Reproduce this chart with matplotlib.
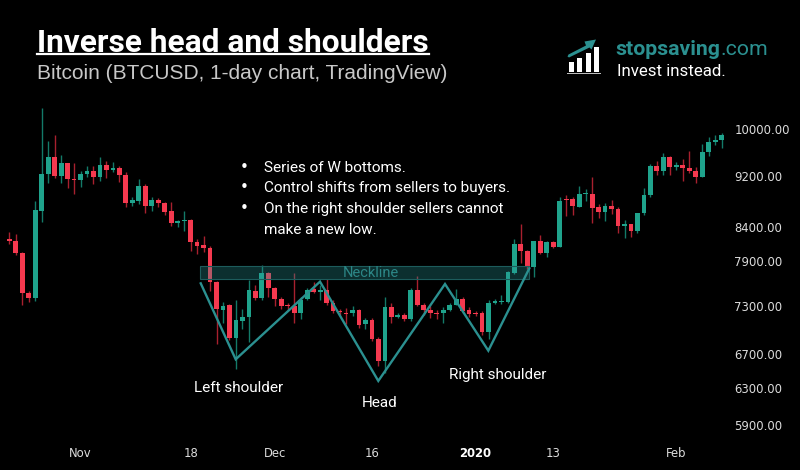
import matplotlib
matplotlib.use("Agg")
import matplotlib.pyplot as plt
import matplotlib.dates as mdates
from matplotlib.patches import Rectangle, Polygon
from matplotlib.lines import Line2D
from matplotlib.transforms import Affine2D
import numpy as np
import pandas as pd

# ---------------- data (BTCUSD daily) ----------------
start_date = "2019-10-21"
opens = [8228, 8189, 8015, 7463, 7404, 8648, 9232, 9523, 9200, 9412,
         9155, 9135, 9232, 9287, 9183, 9390, 9300, 9340, 9210, 8770,
         8805, 9040, 8720, 8820, 8770, 8645, 8466, 8485, 8506, 8183,
         8130, 8095, 7618, 7250, 7305, 6887, 7100, 7150, 7497, 7405,
         7733, 7535, 7390, 7310, 7290, 7200, 7385, 7515, 7485, 7507,
         7340, 7225, 7210, 7200, 7250, 7065, 7116, 6880, 6615, 7280,
         7150, 7180, 7125, 7507, 7305, 7250, 7200, 7200, 7244, 7305,
         7385, 7244, 7200, 7200, 6960, 7340, 7350, 7350, 7745, 8150,
         8055, 7825, 8193, 8015, 8183, 8110, 8815, 8825, 8710, 8905,
         8905, 8700, 8632, 8725, 8680, 8415, 8445, 8345, 8608, 8895,
         9370, 9290, 9512, 9350, 9375, 9335, 9290, 9190, 9610, 9770,
         9810]
highs = [8330, 8297, 8038, 7498, 8800, 10382, 9794, 9900, 9551, 9420,
         9412, 9280, 9367, 9367, 9512, 9450, 9440, 9370, 9260, 8870,
         9145, 9070, 8870, 8850, 8790, 8790, 8506, 8640, 8516, 8218,
         8265, 8120, 7630, 7350, 7316, 7375, 7260, 7642, 7570, 7850,
         7750, 7550, 7420, 7340, 7745, 7420, 7540, 7618, 7580, 7650,
         7375, 7260, 7270, 7290, 7260, 7140, 7140, 6905, 7420, 7330,
         7210, 7200, 7530, 7695, 7340, 7290, 7250, 7280, 7340, 7520,
         7420, 7280, 7230, 7230, 7380, 7390, 7440, 7765, 8217, 8450,
         8060, 8200, 8280, 8200, 8200, 8870, 8890, 8870, 9040, 8990,
         9190, 8750, 8770, 8815, 8700, 8510, 8450, 8620, 9000, 9400,
         9450, 9580, 9530, 9440, 9480, 9620, 9355, 9735, 9858, 9900,
         9930]
lows = [8150, 7995, 7307, 7345, 7358, 8470, 9080, 9160, 9080, 9010,
        8913, 9026, 9183, 9070, 9113, 9170, 9260, 9100, 8700, 8720,
        8760, 8618, 8650, 8700, 8577, 8410, 8405, 8346, 8053, 8010,
        8040, 7497, 6823, 7083, 6867, 6518, 6999, 6840, 7375, 7375,
        7420, 7295, 7262, 7244, 7072, 7130, 7375, 7463, 7375, 7305,
        7200, 7175, 7060, 7170, 7020, 7000, 6855, 6555, 6470, 7080,
        7140, 7100, 7100, 7290, 7180, 7140, 7125, 7083, 7230, 7305,
        7210, 7160, 7170, 6925, 6875, 7320, 7320, 7335, 7730, 7877,
        7800, 7680, 8010, 7958, 8090, 8100, 8570, 8585, 8705, 8805,
        8468, 8530, 8490, 8595, 8310, 8240, 8250, 8310, 8585, 8870,
        9220, 9210, 9210, 9300, 9120, 9245, 9090, 9180, 9535, 9724,
        9680]
closes = [8189, 8015, 7463, 7404, 8659, 9232, 9523, 9200, 9412, 9146,
          9135, 9232, 9287, 9183, 9390, 9300, 9333, 9210, 8770, 8815,
          9040, 8720, 8820, 8770, 8632, 8466, 8485, 8506, 8183, 8127,
          8095, 7618, 7255, 7297, 6894, 7116, 7150, 7507, 7405, 7733,
          7535, 7385, 7295, 7290, 7200, 7375, 7507, 7485, 7500, 7330,
          7225, 7215, 7195, 7250, 7050, 7116, 6880, 6618, 7280, 7160,
          7180, 7125, 7507, 7305, 7250, 7200, 7190, 7250, 7315, 7385,
          7235, 7190, 7195, 6960, 7340, 7355, 7360, 7750, 8150, 8055,
          7825, 8193, 8015, 8183, 8110, 8805, 8810, 8720, 8905, 8915,
          8695, 8632, 8725, 8670, 8415, 8445, 8345, 8608, 8900, 9370,
          9290, 9512, 9345, 9375, 9335, 9280, 9190, 9610, 9770, 9810,
          9905]

ytick_values = [5900, 6300, 6700, 7300, 7900, 8400, 9200, 10000]
xtick_dates = ["2019-11-01", "2019-11-18", "2019-12-01", "2019-12-16",
               "2020-01-01", "2020-01-13", "2020-02-01"]
xtick_labels = ["Nov", "18", "Dec", "16", "2020", "13", "Feb"]

# neckline zone (day offsets from start, prices)
neck_days = [29.4, 80.3]
neck_prices = [7650, 7833]
# inverse head & shoulders zig-zag (day offsets from start, prices)
pattern_days = [29.56, 34.96, 47.98, 56.98, 67.28, 73.97, 80.3]
pattern_prices = [7597, 6634, 7620, 6383, 7588, 6737, 7803]

bullets = ["Series of W bottoms.",
           "Control shifts from sellers to buyers.",
           "On the right shoulder sellers cannot",
           "make a new low."]

# ---------------- styling ----------------
W, H = 800, 470
GREEN = "#1fa38c"
RED = "#f5394f"
GREEN_WICK = "#137a68"
RED_WICK = "#a8202e"
TEAL = "#2b9090"
BG = "black"

fig = plt.figure(figsize=(W / 100, H / 100), dpi=100, facecolor=BG)
ax = fig.add_axes([0, 30 / H, 730 / W, 440 / H])
ax.set_facecolor(BG)

dates = pd.date_range(start_date, periods=len(opens), freq="D")
x = mdates.date2num(dates.to_pydatetime())
x0 = x[0]
o = np.array(opens, float)
h = np.array(highs, float)
l = np.array(lows, float)
c = np.array(closes, float)
up = c >= o

ax.set_yscale("log")
ax.set_ylim(5744.6, 12595)
ax.set_xlim(x0 - 1.436, x0 + 111.29)

wick_cols = np.where(up, GREEN_WICK, RED_WICK)
body_cols = np.where(up, GREEN, RED)
ax.vlines(x, l, h, colors=wick_cols, linewidth=1.0, zorder=2)
bottom = np.minimum(o, c)
height = np.abs(c - o)
height = np.maximum(height, bottom * 0.0022)
ax.bar(x, height, bottom=bottom, width=0.74, color=body_cols,
       edgecolor="none", linewidth=0, zorder=3)

# neckline zone
nx = x0 + np.array(neck_days)
ax.add_patch(Rectangle((nx[0], neck_prices[0]), nx[1] - nx[0],
                       neck_prices[1] - neck_prices[0],
                       facecolor="#2a9d9d", alpha=0.30, edgecolor="none", zorder=4))
ax.add_patch(Rectangle((nx[0], neck_prices[0]), nx[1] - nx[0],
                       neck_prices[1] - neck_prices[0],
                       facecolor="none", edgecolor="#1d5c5c", linewidth=0.8, zorder=4))
ax.text((nx[0] + nx[1]) / 2 + 1.0, np.sqrt(neck_prices[0] * neck_prices[1]),
        "Neckline", color="#2c8686", fontsize=10.5, family="Roboto",
        ha="center", va="center", zorder=5)

# zig-zag
ax.plot(x0 + np.array(pattern_days), pattern_prices, color=TEAL,
        linewidth=1.7, zorder=5, solid_joinstyle="miter")

# axes styling
for s in ax.spines.values():
    s.set_visible(False)
ax.yaxis.tick_right()
ax.set_yticks(ytick_values)
ax.set_yticklabels([f"{v:.2f}" for v in ytick_values])
ax.yaxis.set_minor_locator(matplotlib.ticker.NullLocator())
xt = mdates.date2num(pd.to_datetime(xtick_dates).to_pydatetime())
ax.set_xticks(xt)
ax.set_xticklabels(xtick_labels)
ax.tick_params(axis="both", length=0, colors="#dcdcdc", labelsize=8.4)
ax.tick_params(axis="y", pad=3)
ax.tick_params(axis="x", pad=5)
for lab in ax.get_xticklabels() + ax.get_yticklabels():
    lab.set_family("DejaVu Sans")
for lab in ax.get_xticklabels():
    if lab.get_text() == "2020":
        lab.set_fontweight("bold")
        lab.set_color("white")

# ---------------- texts in pixel coordinates ----------------
pix = Affine2D().scale(1 / W, -1 / H).translate(0, 1) + fig.transFigure


def ptext(px, py, s, **kw):
    return fig.text(px, py, s, transform=pix, **kw)


title = ptext(37, 51.7, "Inverse head and shoulders", color="white",
              fontsize=22.8, fontweight="bold", family="Roboto", va="baseline")
ptext(37, 78.8, "Bitcoin (BTCUSD, 1-day chart, TradingView)", color="#c8c8c8",
      fontsize=15.0, family="Liberation Sans", va="baseline")

base_y = [171.7, 192.3, 212.9, 233.5]
for i, line in enumerate(bullets):
    if i < 3:
        ptext(244, base_y[i], "•", color="white", fontsize=11, family="DejaVu Sans",
              ha="center", va="baseline")
    ptext(264.3, base_y[i], line, color="white", fontsize=11, family="Roboto",
          va="baseline")

ptext(238.3, 391.7, "Left shoulder", color="white", fontsize=11, family="Roboto",
      ha="center", va="baseline")
ptext(380, 406.7, "Head", color="white", fontsize=11, family="Roboto",
      ha="center", va="baseline")
ptext(498, 379, "Right shoulder", color="white", fontsize=11, family="Roboto",
      ha="center", va="baseline")

# logo
t1 = ptext(615, 55, "stopsaving", color=TEAL, fontsize=15.3, fontweight="bold",
           family="Roboto", va="baseline")
ptext(617.3, 76, "Invest instead.", color="white", fontsize=12.2, family="Roboto",
      va="baseline")
for (bx0, by0, bx1) in [(569.3, 61.7, 574), (577.3, 57.7, 582.3),
                        (585.7, 53.3, 590.7), (594, 47.3, 599)]:
    fig.add_artist(Rectangle((bx0, 71.7), bx1 - bx0, by0 - 71.7, transform=pix,
                             facecolor="white", edgecolor="none"))
fig.add_artist(Rectangle((567, 72.6), 34, 1.8, transform=pix,
                         facecolor="#bbbbbb", edgecolor="none"))
fig.add_artist(Polygon([(567.5, 56.5), (568.5, 54.5), (586, 45.5), (584.5, 41.5),
                        (596, 39.5), (591.5, 49.5), (589.5, 47.5), (569, 57.5)],
                       closed=True, transform=pix, facecolor=TEAL, edgecolor="none"))

fig.canvas.draw()
r = fig.canvas.get_renderer()
bb = t1.get_window_extent(r)
ptext(bb.x1 + 0.5, 55, ".com", color=TEAL, fontsize=15.3, family="Roboto",
      va="baseline")
tb = title.get_window_extent(r)
fig.add_artist(Line2D([tb.x0, tb.x1], [H - 54.0, H - 54.0], transform=None,
                      color="white", linewidth=1.6))

fig.savefig("out.png", dpi=100, facecolor=BG)
